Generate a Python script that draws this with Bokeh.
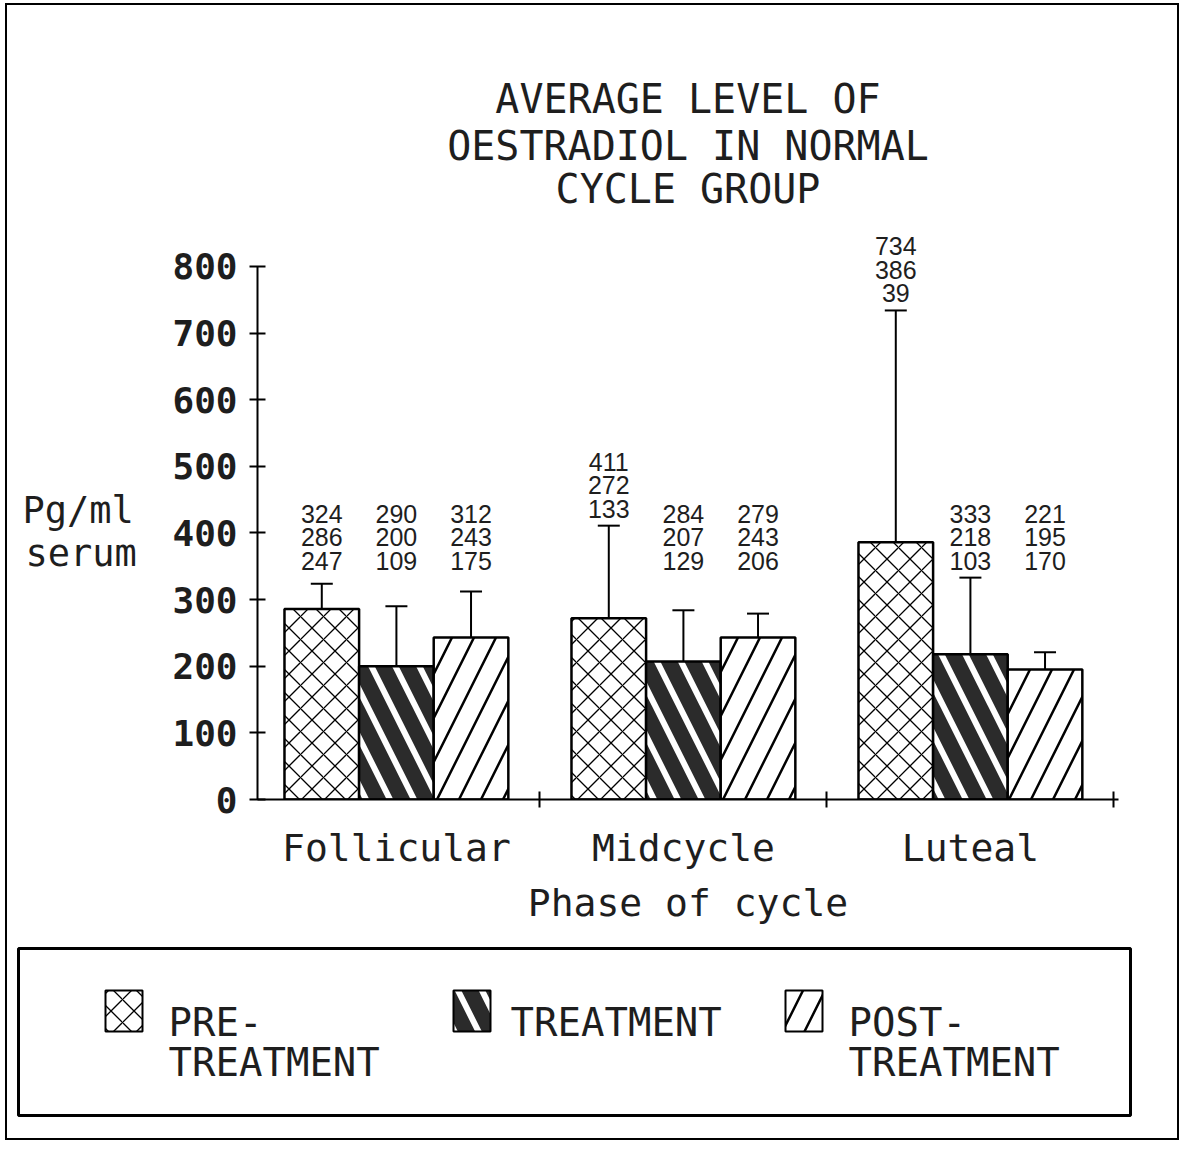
from bokeh.plotting import figure
from bokeh.models import (ColumnDataSource, Range1d, FixedTicker, Whisker, TeeHead,
                          LabelSet)
from bokeh.layouts import column, row
from bokeh.embed import file_html
from bokeh.resources import INLINE
from bokeh.core.properties import value

# ---------------- data ----------------
phases = ["Follicular", "Midcycle", "Luteal"]
series_names = ["PRE-TREATMENT", "TREATMENT", "POST-TREATMENT"]
legend_lines = [["PRE-", "TREATMENT"], ["TREATMENT"], ["POST-", "TREATMENT"]]

pre_mean = [286, 272, 386]
pre_upper = [324, 411, 734]
pre_lower = [247, 133, 39]

treat_mean = [200, 207, 218]
treat_upper = [290, 284, 333]
treat_lower = [109, 129, 103]

post_mean = [243, 243, 195]
post_upper = [312, 279, 221]
post_lower = [175, 206, 170]

y_ticks = [0, 100, 200, 300, 400, 500, 600, 700, 800]

title_lines = ["AVERAGE LEVEL OF", "OESTRADIOL IN NORMAL", "CYCLE GROUP"]
y_label_lines = ["Pg/ml", "serum"]
x_label = "Phase of cycle"

# ---------------- styles ----------------
MONO = "DejaVu Sans Mono"
SANS = "Liberation Sans"
INK = "#1e1e1e"
styles = [
    dict(fill_color="white", hatch_pattern="x", hatch_color="black",
         hatch_weight=1.3, hatch_scale=23),
    dict(fill_color="#2b2b2b", hatch_pattern="\\", hatch_color="white",
         hatch_weight=6, hatch_scale=48),
    dict(fill_color="white", hatch_pattern="/", hatch_color="black",
         hatch_weight=2.5, hatch_scale=44),
]
offsets = [-0.26, 0.0, 0.26]
bar_w = 0.26

W = 1170
H_TITLE, H_MAIN, H_LEG = 220, 705, 208
W_YLAB = 155


def blank_panel(w, h):
    f = figure(width=w, height=h, x_range=Range1d(0, w), y_range=Range1d(h, 0),
               output_backend="svg", toolbar_location=None, min_border=0,
               min_border_left=0, min_border_right=0, min_border_top=0,
               min_border_bottom=0, x_axis_location=None, y_axis_location=None,
               frame_align=False)
    f.xgrid.visible = False
    f.ygrid.visible = False
    f.outline_line_color = None
    return f


# ---------------- title panel ----------------
tfig = blank_panel(W, H_TITLE)
tfig.text(x=[680.5] * 3, y=[93, 140, 183], text=title_lines,
          text_align="center", text_baseline="middle",
          text_font=value(MONO), text_font_size="40px", text_color=INK)

# ---------------- y label panel ----------------
yfig = blank_panel(W_YLAB, H_MAIN)
yfig.text(x=[15, 18], y=[285, 328], text=y_label_lines, text_align="left",
          text_baseline="middle", text_font=value(MONO), text_font_size="37px",
          text_color=INK)

# ---------------- main chart ----------------
p = figure(width=W - W_YLAB, height=H_MAIN,
           x_range=Range1d(-0.484, 2.516), y_range=Range1d(0, 857),
           output_backend="svg", toolbar_location=None,
           min_border_left=95, min_border_right=59,
           min_border_top=3, min_border_bottom=131, frame_align=False)
p.xgrid.visible = False
p.ygrid.visible = False
p.outline_line_color = None
p.background_fill_color = "white"
p.border_fill_color = "white"

means = [pre_mean, treat_mean, post_mean]
uppers = [pre_upper, treat_upper, post_upper]
lowers = [pre_lower, treat_lower, post_lower]

base_anchor = max(max(treat_upper), max(post_upper))

for k in range(3):
    xs = [i + offsets[k] for i in range(len(phases))]
    anchor = [max(u, base_anchor) for u in uppers[k]]
    src = ColumnDataSource(dict(
        x=xs, top=means[k], upper=uppers[k], lower=lowers[k], anchor=anchor,
        t_up=[str(v) for v in uppers[k]],
        t_mid=[str(v) for v in means[k]],
        t_low=[str(v) for v in lowers[k]],
    ))
    p.vbar(x="x", top="top", bottom=0, width=bar_w, source=src,
           line_color="black", line_width=2.5, legend_label=series_names[k],
           **styles[k])
    p.add_layout(Whisker(source=src, base="x", upper="upper", lower="lower",
                         line_color="black", line_width=2,
                         upper_head=TeeHead(size=22, line_width=2, line_color="black"),
                         lower_head=TeeHead(size=22, line_width=2, line_color="black")))
    for col, off in (("t_low", 17), ("t_mid", 40.5), ("t_up", 64)):
        p.add_layout(LabelSet(x="x", y="anchor", text=col, source=src,
                              y_offset=off, text_align="center",
                              text_baseline="middle", text_font=value(SANS),
                              text_font_size="25px", text_color=INK))

# hide the automatic legend (a drawn legend panel is used below)
p.legend.visible = False

# y axis
ya = p.yaxis[0]
ya.ticker = FixedTicker(ticks=y_ticks, minor_ticks=[])
ya.bounds = (0, 800)
ya.axis_line_width = 2
ya.major_tick_in = 8
ya.major_tick_out = 8
ya.major_tick_line_width = 2
ya.minor_tick_line_color = None
ya.major_label_text_font = MONO
ya.major_label_text_font_style = "bold"
ya.major_label_text_font_size = "36px"
ya.major_label_text_color = INK
ya.major_label_standoff = 12

# x axis
xa = p.xaxis[0]
xa.ticker = FixedTicker(ticks=[0, 1, 2], minor_ticks=[0.5, 1.5, 2.5])
xa.major_label_overrides = {i: name for i, name in enumerate(phases)}
xa.axis_line_width = 2
xa.major_tick_in = 0
xa.major_tick_out = 0
xa.minor_tick_in = 8
xa.minor_tick_out = 8
xa.minor_tick_line_width = 2
xa.major_label_text_font = MONO
xa.major_label_text_font_size = "38px"
xa.major_label_text_color = INK
xa.major_label_standoff = 18
xa.axis_label = x_label
xa.axis_label_text_font = MONO
xa.axis_label_text_font_style = "normal"
xa.axis_label_text_font_size = "38px"
xa.axis_label_text_color = INK
xa.axis_label_standoff = 8

# ---------------- legend panel ----------------
leg = blank_panel(W, H_LEG)
leg.quad(left=[11], right=[1123], top=[18], bottom=[185], fill_color=None,
         line_color="black", line_width=3)

sw_left = [98, 446, 778]
sw_w = 37
text_x = [161, 503, 841]
for k in range(3):
    leg.quad(left=[sw_left[k]], right=[sw_left[k] + sw_w], top=[60], bottom=[101],
             line_color="black", line_width=2, **styles[k])
    lines = legend_lines[k]
    leg.text(x=[text_x[k]] * len(lines), y=[92 + 40 * j for j in range(len(lines))],
             text=lines, text_align="left", text_baseline="middle",
             text_font=value(MONO), text_font_size="39px", text_color=INK)

layout = column(tfig, row(yfig, p), leg,
                styles={"border": "2px solid black", "margin-left": "5px",
                        "margin-top": "3px"})
open("out.html", "w").write(file_html(layout, INLINE))
